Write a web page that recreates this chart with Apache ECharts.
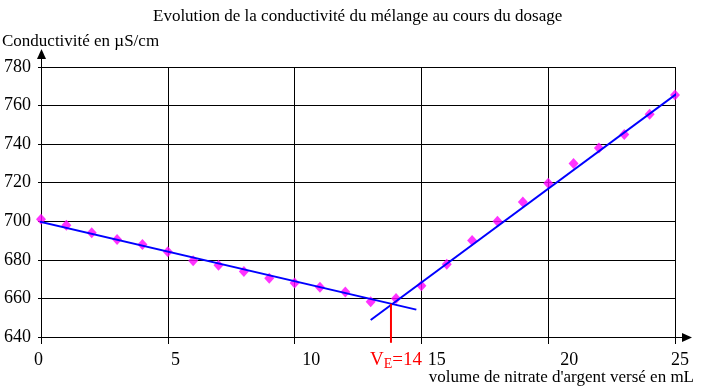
<!DOCTYPE html>
<html lang="fr">
<head>
    <meta charset="UTF-8">
    <title>Conductivité</title>
    <script src="https://cdn.jsdelivr.net/npm/echarts@6/dist/echarts.min.js"></script>
    <style>
        html, body { margin: 0; padding: 0; background: #fff; }
        #chart { width: 703px; height: 392px; }
    </style>
</head>
<body>
    <div id="chart"></div>
    <script type="text/javascript">
        // données
        var volumes = [0, 1, 2, 3, 4, 5, 6, 7, 8, 9, 10, 11, 12, 13, 14, 15, 16, 17, 18, 19, 20, 21, 22, 23, 24, 25];
        var conductivity = [701, 698, 694, 690.5, 688, 684.2, 679.6, 677.2, 674, 670.4, 668, 665.8, 663.3,
            658.3, 660, 666.6, 677.7, 690, 700, 710, 719.7, 730, 738, 745, 755.5, 765.5];
        var fitBefore = [[-0.36, 700.7], [14.8, 654.2]];
        var fitAfter = [[13.0, 648.8], [25.44, 769.8]];
        var equivalence = [[13.8, 657.2], [13.8, 637]];
        var xTicks = { min: 0, max: 25, step: 5 };
        var yTicks = { min: 640, max: 780, step: 20 };

        var font = 'Liberation Serif';
        // décalage des graduations de l'axe x (comme sur l'original)
        var xLabelShift = { 0: -2.5, 5: 7.7, 10: 16.7, 15: 15.3, 20: 21, 25: 5 };
        var xRich = {};
        Object.keys(xLabelShift).forEach(function (k) {
            var s = xLabelShift[k];
            xRich['t' + k] = {
                fontFamily: font, fontSize: 18, color: '#000',
                padding: s > 0 ? [0, 0, 0, 2 * s] : [0, -2 * s, 0, 0]
            };
        });

        var myChart = echarts.init(document.getElementById('chart'));
        var option = {
            animation: false,
            backgroundColor: '#fff',
            textStyle: { fontFamily: font },
            title: {
                text: 'Evolution de la conductivité du mélange au cours du dosage',
                left: 148,
                top: 3,
                textStyle: { fontFamily: font, fontSize: 17, fontWeight: 'normal', color: '#000' }
            },
            grid: { left: 41, right: 28, top: 67, bottom: 55 },
            xAxis: {
                type: 'value',
                min: xTicks.min,
                max: xTicks.max,
                interval: xTicks.step,
                axisLine: { lineStyle: { color: '#000', width: 1 } },
                axisTick: { length: 7, lineStyle: { color: '#000' } },
                splitLine: { lineStyle: { color: '#000', width: 1 } },
                axisLabel: {
                    margin: 14,
                    fontFamily: font,
                    fontSize: 18,
                    formatter: function (v) { return '{t' + v + '|' + v + '}'; },
                    rich: xRich
                }
            },
            yAxis: {
                type: 'value',
                min: yTicks.min,
                max: yTicks.max,
                interval: yTicks.step,
                axisLine: { show: true, lineStyle: { color: '#000', width: 1 } },
                axisTick: { show: true, length: 3, lineStyle: { color: '#000' } },
                splitLine: { lineStyle: { color: '#000', width: 1 } },
                axisLabel: { margin: 10, fontFamily: font, fontSize: 18, color: '#000' }
            },
            series: [
                {
                    type: 'scatter',
                    data: volumes.map(function (v, i) { return [v, conductivity[i]]; }),
                    symbol: 'diamond',
                    symbolSize: [10, 11],
                    itemStyle: { color: '#FF00FF' }
                },
                {
                    type: 'line',
                    data: fitBefore,
                    symbol: 'none',
                    clip: false,
                    lineStyle: { color: '#0000FF', width: 2 }
                },
                {
                    type: 'line',
                    data: fitAfter,
                    symbol: 'none',
                    clip: false,
                    lineStyle: { color: '#0000FF', width: 2 }
                },
                {
                    type: 'line',
                    data: [
                        equivalence[0],
                        {
                            value: equivalence[1],
                            label: {
                                show: true,
                                position: 'bottom',
                                distance: 7,
                                offset: [5, 0],
                                formatter: '{v|V}{s|E}{v|=14}',
                                rich: {
                                    v: { fontFamily: font, fontSize: 19, color: '#FF0000', lineHeight: 20 },
                                    s: { fontFamily: font, fontSize: 14, color: '#FF0000', verticalAlign: 'bottom', lineHeight: 20, padding: [0, 0, -2, 0] }
                                }
                            }
                        }
                    ],
                    symbol: 'circle',
                    symbolSize: 0,
                    showSymbol: true,
                    clip: false,
                    itemStyle: { color: '#FF0000' },
                    lineStyle: { color: '#FF0000', width: 2 }
                }
            ]
        };
        myChart.setOption(option);

        // flèches des axes et titres des axes
        var pOrigin = myChart.convertToPixel({ seriesIndex: 0 }, [xTicks.min, yTicks.min]);
        var pTop = myChart.convertToPixel({ seriesIndex: 0 }, [xTicks.min, yTicks.max]);
        var pRight = myChart.convertToPixel({ seriesIndex: 0 }, [xTicks.max, yTicks.min]);
        var ox = Math.round(pOrigin[0]) + 0.5, oy = Math.round(pOrigin[1]) + 0.5;
        var ty = pTop[1], rx = pRight[0];
        myChart.setOption({
            graphic: [
                { type: 'line', shape: { x1: ox, y1: ty, x2: ox, y2: ty - 9 }, style: { stroke: '#000', lineWidth: 1 } },
                { type: 'polygon', shape: { points: [[ox - 4.5, ty - 8], [ox + 4.5, ty - 8], [ox, ty - 18]] }, style: { fill: '#000' } },
                { type: 'line', shape: { x1: rx, y1: oy, x2: rx + 8, y2: oy }, style: { stroke: '#000', lineWidth: 1 } },
                { type: 'polygon', shape: { points: [[rx + 7, oy - 4.5], [rx + 7, oy + 4.5], [rx + 17, oy]] }, style: { fill: '#000' } },
                {
                    type: 'text', left: 2, top: 33,
                    style: { text: 'Conductivité en µS/cm', fontFamily: font, fontSize: 17, fill: '#000' }
                },
                {
                    type: 'text', right: 9, top: 369,
                    style: { text: "volume de nitrate d'argent versé en mL", fontFamily: font, fontSize: 17, fill: '#000' }
                }
            ]
        });
    </script>
</body>
</html>
